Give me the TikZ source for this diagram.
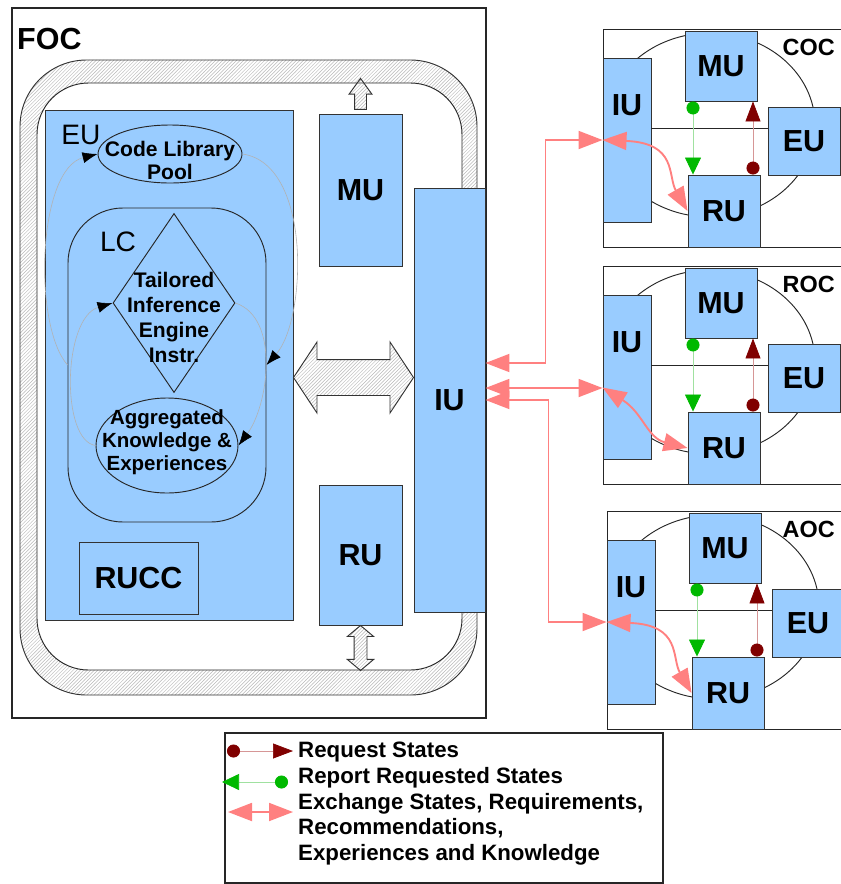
\documentclass[tikz,border=0pt]{standalone}
\usepackage{fontspec}
\setmainfont{Liberation Sans}
\usetikzlibrary{arrows.meta, positioning, shapes.geometric, shapes.arrows, patterns, calc}
\definecolor{unitblue}{RGB}{153,204,255}
\definecolor{xchpink}{RGB}{255,128,128}
\definecolor{reqred}{RGB}{128,0,0}
\definecolor{reqline}{RGB}{214,150,150}
\definecolor{repgreen}{RGB}{0,185,0}
\definecolor{repline}{RGB}{160,225,160}

\begin{document}
\begin{tikzpicture}[
  x=0.03cm, y=-0.03cm,
  focframe/.style = {draw=black!85, line width=1pt, fill=white, inner sep=0pt},
  unit/.style     = {draw=black!80, fill=unitblue, line width=0.8pt, inner sep=0pt},
  bigname/.style  = {font=\fontsize{26}{30}\selectfont\bfseries},
  thinname/.style = {font=\fontsize{24}{28}\selectfont, inner sep=0pt},
  subname/.style  = {font=\fontsize{20}{24}\selectfont\bfseries, inner sep=0pt},
  legtext/.style  = {font=\fontsize{19}{21.8}\selectfont\bfseries, inner sep=0pt, align=left},
  outline/.style  = {draw=black!85, line width=0.8pt, inner sep=0pt},
  hatched/.style  = {draw=black!80, line width=0.8pt, pattern=north east lines, pattern color=gray!55},
  bigxfer/.style  = {double arrow, hatched, inner xsep=0pt, inner ysep=0.525cm,
                     double arrow head extend=0.525cm, double arrow tip angle=113, minimum height=3.6cm},
  feedback/.style = {draw=gray!60, line width=0.5pt, -{Latex[color=black, length=0.45cm, width=0.33cm]}},
  exch/.style     = {draw=xchpink, line width=1.6pt,
                     {Triangle[length=0.72cm, width=0.54cm]}-{Triangle[length=0.72cm, width=0.54cm]}},
  request/.style  = {draw=reqline, line width=0.6pt,
                     {Circle[color=reqred, length=0.39cm]}-{Triangle[color=reqred, length=0.6cm, width=0.45cm]}},
  report/.style   = {draw=repline, line width=0.6pt,
                     {Circle[color=repgreen, length=0.39cm]}-{Triangle[color=repgreen, length=0.51cm, width=0.48cm]}},
]
\useasboundingbox (0,0) rectangle (841,884);
\clip (0,0) rectangle (841,884);

%% ==================== FOC ====================
\node[focframe, minimum width=14.22cm, minimum height=21.3cm] (foc) at (249,363) {};
\node[bigname, anchor=west, inner sep=0pt] (foc-name) at (17,39) {FOC};

%% hatched ring round the units
\node[hatched, rounded corners=2cm, minimum width=13.71cm, minimum height=19.05cm] (ring) at (248.5,377.5) {};
\node[outline, fill=white, rounded corners=1.55cm, minimum width=12.75cm, minimum height=17.61cm] (ringin) at (249.5,376.5) {};

%% EU with its learning cycle
\node[unit, minimum width=7.44cm, minimum height=15.3cm] (eu) at (169,365) {};
\node[thinname] (eu-name) at (81,135) {EU};
\node[outline, ellipse, minimum width=4.32cm, minimum height=1.74cm,
      label={[font=\fontsize{18}{19.6}\selectfont\bfseries, align=center, anchor=center, yshift=-1.08cm]above:{Code Library\\Pool}}] (pool) at (170,154) {};
\node[outline, rounded corners=1.65cm, minimum width=5.94cm, minimum height=9.42cm] (lc) at (167,365) {};
\node[thinname] (lc-name) at (118,242) {LC};
\node[outline, diamond, minimum width=3.66cm, minimum height=5.37cm,
      label={[font=\fontsize{18}{21.3}\selectfont\bfseries, align=center, anchor=center, yshift=-3.13cm]above:{Tailored\\Inference\\Engine\\Instr.}}] (engine) at (174,303) {};
\node[outline, ellipse, minimum width=4.26cm, minimum height=2.85cm,
      label={[font=\fontsize{17.5}{19.6}\selectfont\bfseries, align=center, anchor=center, yshift=-1.35cm]above:{Aggregated\\Knowledge \&\\Experiences}}] (knowledge) at (167,445.5) {};
\node[unit, bigname, minimum width=3.57cm, minimum height=2.16cm] (rucc) at (138.5,578) {RUCC};

%% MU, RU, IU
\node[unit, bigname, minimum width=2.49cm, minimum height=4.56cm] (mu) at (360.5,190) {MU};
\node[unit, bigname, minimum width=2.49cm, minimum height=4.2cm] (ru) at (360.5,555) {RU};
\node[unit, bigname, minimum width=2.13cm, minimum height=12.72cm] (iu) at (449.5,400) {IU};

%% hollow hatched arrows
\node[bigxfer] (xfer) at ($(eu.east)!0.5!(iu.west)+(0,-5)$) {};
\node[single arrow, hatched, rotate=90, inner xsep=0pt, inner ysep=0.165cm, single arrow head extend=0.165cm,
      single arrow tip angle=72, minimum height=0.93cm] (mu-up) at ($(mu.north)!0.5!(mu.north |- ringin.north)$) {};
\node[double arrow, hatched, rotate=90, inner xsep=0pt, inner ysep=0.18cm, double arrow head extend=0.2cm,
      double arrow tip angle=100, minimum height=1.35cm] (ru-down) at ($(ru.south)!0.5!(ru.south |- ringin.south)$) {};

%% learning cycles
\draw[feedback] (lc.west) .. controls +(-35,-40) and +(-60,15) .. (pool.west);
\draw[feedback] (pool.east) .. controls +(70,10) and +(40,-45) .. (lc.east);
\draw[feedback] (engine.east) .. controls +(45,15) and +(30,-40) .. (knowledge.east);
\draw[feedback] (knowledge.west) .. controls +(-35,-5) and +(-50,15) .. (engine.west);

%% ==================== COC / ROC / AOC ====================
\foreach \n/\lbl/\dx/\dy in {coc/COC/0/0, roc/ROC/0/237, aoc/AOC/4/482}{
  \begin{scope}[shift={(\dx,\dy)}]
    \node[focframe, anchor=north west, minimum width=8.1cm, minimum height=6.54cm] (\n) at (603,29) {};
    \draw[outline] (710,125) ellipse [x radius=3.15cm, y radius=2.76cm];
    \node[subname, anchor=east] (\n-name) at (835-\dx,47) {\lbl};
    \node[unit, minimum width=1.44cm, minimum height=4.92cm,
          label={[bigname, anchor=center, yshift=-1.44cm]above:IU}] (\n-iu) at (627,140) {};
    \node[unit, bigname, minimum width=2.16cm, minimum height=2.1cm] (\n-mu) at (721,66) {MU};
    \node[unit, bigname, minimum width=2.16cm, minimum height=2.04cm] (\n-eu) at (804,141) {EU};
    \node[unit, bigname, minimum width=2.16cm, minimum height=2.16cm] (\n-ru) at (724,211) {RU};
    \draw[outline] ([yshift=0.36cm]\n-iu.east) coordinate (\n-h) -- (\n-h -| \n-eu.west);
    \draw[report] ([xshift=-0.84cm]\n-mu.south) coordinate (\n-g) -- (\n-g |- \n-ru.north);
    \draw[request] ([xshift=0.87cm]\n-ru.north) coordinate (\n-r) -- (\n-r |- \n-mu.south);
  \end{scope}
}

%% exchange links
\draw[exch] ([yshift=1.11cm]iu.east) -- ++(60,0) |- (coc-iu.west);
\draw[exch] ([yshift=0.36cm]iu.east) coordinate (roc-in) -- (roc-in -| roc-iu.west);
\draw[exch] (iu.east) -- ++(63,0) |- (aoc-iu.west);
\draw[exch] (coc-iu.west) .. controls +(75,3) and +(-20,-35) .. (coc-ru.west);
\draw[exch] ([yshift=-0.315cm]roc-iu.west) .. controls +(40,25) and +(-40,-10) .. (roc-ru.west);
\draw[exch] (aoc-iu.west) .. controls +(75,3) and +(-20,-35) .. (aoc-ru.west);

%% ==================== LEGEND ====================
\node[focframe, minimum width=13.14cm, minimum height=4.5cm] (legend) at (444,808) {};
\coordinate (req-a) at (227,751);
\coordinate (req-b) at (293,751);
\coordinate (rep-a) at (288,782);
\coordinate (rep-b) at (222,782);
\coordinate (exch-a) at (228,812);
\coordinate (exch-b) at (293,812);
\draw[request] (req-a) -- (req-b);
\draw[report] (rep-a) -- (rep-b);
\draw[exch] (exch-a) -- (exch-b);
\node[legtext, anchor=west] (req-text) at (298,752) {Request States};
\node[legtext, anchor=west] (rep-text) at (298,778) {Report Requested States};
\node[legtext, anchor=west] (exch-text) at (298,829) {Exchange States, Requirements,\\Recommendations,\\Experiences and Knowledge};

\end{tikzpicture}
\end{document}
